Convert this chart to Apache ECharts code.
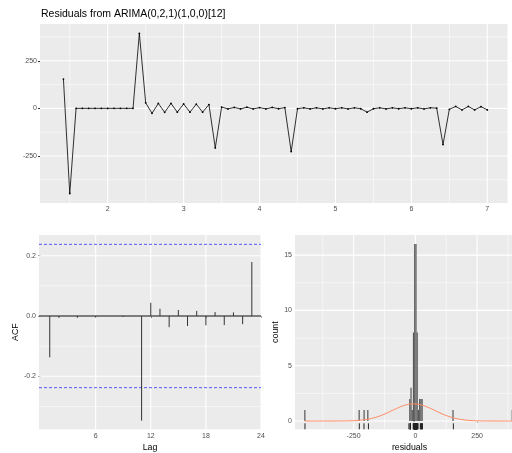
<!DOCTYPE html>
<html>
<head>
<meta charset="UTF-8">
<title>Residuals from ARIMA</title>
<script src="https://cdn.jsdelivr.net/npm/echarts@6/dist/echarts.min.js"></script>
<style>
html, body { margin: 0; padding: 0; background: #fff; }
#chart { width: 512px; height: 453px; }
</style>
</head>
<body>
<div id="chart"></div>
<script>
// residual series, monthly, first value at month 6 of year 1
var startYear = 1, startMonth = 6, freq = 12;
var residuals = [154, -447, 0, 0, 0, 0, 0, 0, 0, 0, 0, 0,
	394, 29, -26, 26, -21, 26, -20, 23, -20, 22, -20, 20,
	-208, 7, -3, 5, -3, 6, -3, 4, -3, 5, -2, 4,
	-227, -2, 3, -3, 3, -3, 3, -2, 3, -3, 3, -2,
	-20, -2, 3, -3, 3, -2, 3, -2, 3, -3, 3, 1,
	-190, -5, 10, -8, 10, -8, 9, -8];

// ACF of residuals
var acfLags = [1, 2, 3, 4, 5, 6, 7, 8, 9, 10, 11, 12, 13, 14, 15, 16, 17, 18, 19, 20, 21, 22, 23];
var acfValues = [-0.137, -0.006, 0.000, -0.006, 0.000, -0.005, 0.000, 0.000, -0.003, 0.000, -0.347,
	0.044, 0.024, -0.037, 0.020, -0.033, 0.017, -0.031, 0.013, -0.030, 0.012, -0.027, 0.179];

// histogram: left edge of each bin and its count
var binWidth = 5;
var histLeft = [-450, -230, -210, -195, -25, -20, -15, -10, -5, 0, 5, 10, 15, 20, 25, 150, 390];
var histCount = [1, 1, 1, 1, 2, 3, 1, 8, 16, 16, 8, 1, 2, 2, 2, 1, 1];

// tick labels
var tsTicksX = [2, 3, 4, 5, 6, 7];
var tsTicksY = [-250, 0, 250];
var acfTicksX = [6, 12, 18, 24];
var acfTicksY = [-0.2, 0, 0.2];
var histTicksX = [-250, 0, 250];
var histTicksY = [0, 5, 10, 15];

var font = 'Liberation Sans, Arial, sans-serif';
var n = residuals.length;
var ci = 1.96 / Math.sqrt(n);

var tsData = residuals.map(function (r, i) {
	return [startYear + (startMonth - 1 + i) / freq, r];
});

// normal curve fitted to residuals, scaled to counts
var mean = residuals.reduce(function (a, b) { return a + b; }, 0) / n;
var sd = Math.sqrt(residuals.reduce(function (a, b) { return a + (b - mean) * (b - mean); }, 0) / (n - 1));
var rmin = Math.min.apply(null, residuals), rmax = Math.max.apply(null, residuals);
var normData = [];
for (var k = 0; k <= 200; k++) {
	var xv = rmin + (rmax - rmin) * k / 200;
	var dens = Math.exp(-0.5 * Math.pow((xv - mean) / sd, 2)) / (sd * Math.sqrt(2 * Math.PI));
	normData.push([xv, dens * n * binWidth]);
}

var ranges = [
	{x: [1.108, 7.266], y: [-497, 443]},
	{x: [-0.17, 24], y: [-0.3758, 0.2687]},
	{x: [-487.4, 440], y: [-0.75, 16.82]}
];

function valAxis(idx, min, max, ticks, fmt) {
	return {
		type: 'value', gridIndex: idx, min: min, max: max,
		axisLine: {show: false},
		splitLine: {show: false},
		axisTick: {show: true, length: 2, customValues: ticks, lineStyle: {color: '#333', width: 1}},
		axisLabel: {customValues: ticks, fontSize: 7, color: '#4D4D4D', fontFamily: font, margin: 3, formatter: fmt}
	};
}

// background grid lines: kind 0 major vertical, 1 minor vertical, 2 major horizontal, 3 minor horizontal
function gridLines(idx, vMajor, vMinor, hMajor, hMinor) {
	var r = ranges[idx], d = [];
	vMajor.forEach(function (v) { d.push([v, r.y[0], 0]); });
	vMinor.forEach(function (v) { d.push([v, r.y[0], 1]); });
	hMajor.forEach(function (v) { d.push([r.x[0], v, 2]); });
	hMinor.forEach(function (v) { d.push([r.x[0], v, 3]); });
	return {
		type: 'custom', xAxisIndex: idx, yAxisIndex: idx, z: 1, silent: true, data: d,
		renderItem: function (params, api) {
			var cs = params.coordSys;
			var p = api.coord([api.value(0), api.value(1)]);
			var kind = api.value(2);
			var shape = kind < 2 ? {x1: p[0], y1: cs.y, x2: p[0], y2: cs.y + cs.height}
				: {x1: cs.x, y1: p[1], x2: cs.x + cs.width, y2: p[1]};
			return {type: 'line', shape: shape, style: {stroke: '#fff', lineWidth: kind % 2 ? 0.55 : 1.1}};
		}
	};
}

var chart = echarts.init(document.getElementById('chart'));
chart.setOption({
	animation: false,
	title: {
		text: 'Residuals from ARIMA(0,2,1)(1,0,0)[12]',
		left: 41, top: 9, padding: 0,
		textStyle: {fontSize: 10.5, fontWeight: 'normal', color: '#000', fontFamily: font}
	},
	grid: [
		{left: 40, top: 24, width: 467.5, height: 179, show: true, backgroundColor: '#EBEBEB', borderWidth: 0, outerBoundsMode: 'none'},
		{left: 39, top: 235, width: 222, height: 194.3, show: true, backgroundColor: '#EBEBEB', borderWidth: 0, outerBoundsMode: 'none'},
		{left: 295, top: 235, width: 229, height: 194.3, show: true, backgroundColor: '#EBEBEB', borderWidth: 0, outerBoundsMode: 'none'}
	],
	xAxis: [
		valAxis(0, ranges[0].x[0], ranges[0].x[1], tsTicksX),
		Object.assign(valAxis(1, ranges[1].x[0], ranges[1].x[1], acfTicksX), {
			name: 'Lag', nameLocation: 'middle', nameGap: 14,
			nameTextStyle: {fontSize: 8.8, color: '#000', fontFamily: font}
		}),
		Object.assign(valAxis(2, ranges[2].x[0], ranges[2].x[1], histTicksX), {
			name: 'residuals', nameLocation: 'middle', nameGap: 14,
			nameTextStyle: {fontSize: 8.8, color: '#000', fontFamily: font}
		})
	],
	yAxis: [
		valAxis(0, ranges[0].y[0], ranges[0].y[1], tsTicksY),
		Object.assign(valAxis(1, ranges[1].y[0], ranges[1].y[1], acfTicksY, function (v) { return v.toFixed(1); }), {
			name: 'ACF', nameLocation: 'middle', nameGap: 19,
			nameTextStyle: {fontSize: 8.8, color: '#000', fontFamily: font}
		}),
		Object.assign(valAxis(2, ranges[2].y[0], ranges[2].y[1], histTicksY), {
			name: 'count', nameLocation: 'middle', nameGap: 15,
			nameTextStyle: {fontSize: 8.8, color: '#000', fontFamily: font}
		})
	],
	series: [
		gridLines(0, tsTicksX, [1.5, 2.5, 3.5, 4.5, 5.5, 6.5], tsTicksY, [-375, -125, 125, 375]),
		gridLines(1, acfTicksX, [], acfTicksY, [-0.3, -0.1, 0.1]),
		gridLines(2, histTicksX, [-375, -125, 125, 375], histTicksY, [2.5, 7.5, 12.5]),
		{
			type: 'line', xAxisIndex: 0, yAxisIndex: 0, z: 3, data: tsData,
			symbol: 'circle', symbolSize: 1.8, showAllSymbol: true,
			lineStyle: {color: '#000', width: 0.8}, itemStyle: {color: '#000'}
		},
		{
			// zero line and confidence limits
			type: 'custom', xAxisIndex: 1, yAxisIndex: 1, z: 3, silent: true,
			data: [[ranges[1].x[0], 0, 0], [ranges[1].x[0], ci, 1], [ranges[1].x[0], -ci, 1]],
			renderItem: function (params, api) {
				var cs = params.coordSys;
				var p = api.coord([api.value(0), api.value(1)]);
				var dashed = api.value(2) === 1;
				return {
					type: 'line',
					shape: {x1: cs.x, y1: p[1], x2: cs.x + cs.width, y2: p[1]},
					style: dashed ? {stroke: '#3b3bff', lineWidth: 1, lineDash: [3, 2], opacity: 0.85}
						: {stroke: '#555', lineWidth: 1.4}
				};
			}
		},
		{
			type: 'custom', xAxisIndex: 1, yAxisIndex: 1, z: 4, silent: true,
			data: acfLags.map(function (l, i) { return [l, acfValues[i]]; }),
			renderItem: function (params, api) {
				var p0 = api.coord([api.value(0), 0]);
				var p1 = api.coord([api.value(0), api.value(1)]);
				return {type: 'line', shape: {x1: p0[0], y1: p0[1], x2: p1[0], y2: p1[1]},
					style: {stroke: '#333', lineWidth: 1}};
			}
		},
		{
			type: 'custom', xAxisIndex: 2, yAxisIndex: 2, z: 3, silent: true,
			data: histLeft.map(function (l, i) { return [l, histCount[i]]; }),
			renderItem: function (params, api) {
				var p0 = api.coord([api.value(0), api.value(1)]);
				var p1 = api.coord([api.value(0) + binWidth, 0]);
				return {type: 'rect', shape: {x: p0[0], y: p0[1], width: p1[0] - p0[0], height: p1[1] - p0[1]},
					style: {fill: '#595959'}};
			}
		},
		{
			type: 'line', xAxisIndex: 2, yAxisIndex: 2, z: 4, data: normData, symbol: 'none',
			lineStyle: {color: '#ff8a62', width: 1}
		},
		{
			// rug
			type: 'custom', xAxisIndex: 2, yAxisIndex: 2, z: 4, silent: true,
			data: residuals.map(function (r) { return [r, ranges[2].y[0]]; }),
			renderItem: function (params, api) {
				var cs = params.coordSys;
				var p = api.coord([api.value(0), api.value(1)]);
				var yb = cs.y + cs.height;
				return {type: 'line', shape: {x1: p[0], y1: yb, x2: p[0], y2: yb - 6},
					style: {stroke: '#222', lineWidth: 1}};
			}
		}
	]
});
</script>
</body>
</html>
